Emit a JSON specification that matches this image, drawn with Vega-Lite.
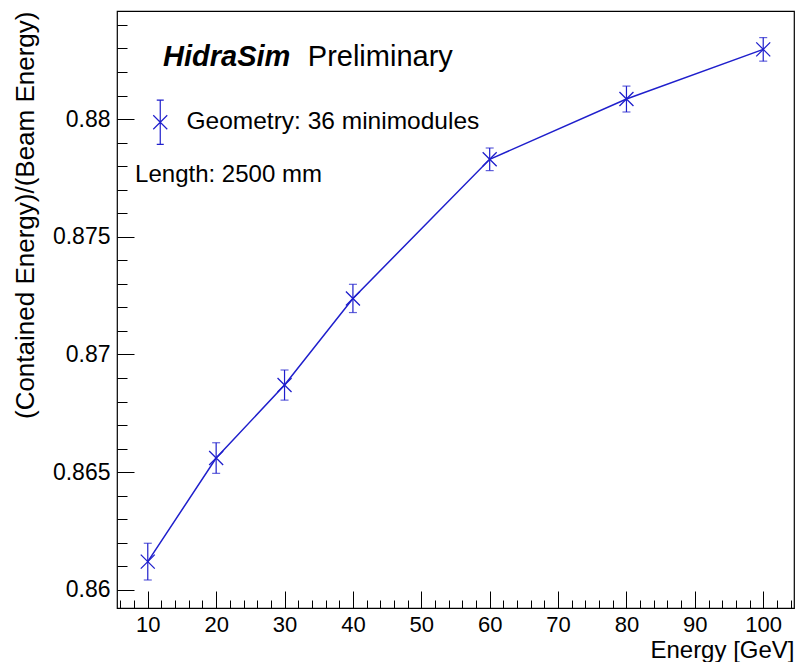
{
  "$schema": "https://vega.github.io/schema/vega-lite/v6.json",
  "width": 677,
  "height": 597,
  "autosize": {"type": "none"},
  "padding": {"left": 117, "top": 11, "right": 2, "bottom": 54},
  "background": "white",
  "config": {
    "font": "Liberation Sans",
    "view": {"stroke": "black", "strokeWidth": 1.2},
    "axis": {
      "grid": false,
      "domain": false,
      "tickColor": "black",
      "tickWidth": 1,
      "labelColor": "black",
      "titleColor": "black",
      "labelFont": "Liberation Sans",
      "titleFont": "Liberation Sans",
      "titleFontWeight": "normal"
    }
  },
  "data": {
    "values": [
      {"energy": 10, "value": 0.8612, "lo": 0.86042, "hi": 0.86198},
      {"energy": 20, "value": 0.8656, "lo": 0.86495, "hi": 0.86625},
      {"energy": 30, "value": 0.8687, "lo": 0.86806, "hi": 0.86934},
      {"energy": 40, "value": 0.87238, "lo": 0.87178, "hi": 0.87298},
      {"energy": 60, "value": 0.87829, "lo": 0.87781, "hi": 0.87877},
      {"energy": 80, "value": 0.88085, "lo": 0.8803, "hi": 0.8814},
      {"energy": 100, "value": 0.88296, "lo": 0.88246, "hi": 0.88346}
    ]
  },
  "resolve": {"axis": {"x": "independent", "y": "independent"}},
  "layer": [
    {
      "mark": {"type": "line", "color": "#1f1fcc", "strokeWidth": 1.5},
      "encoding": {
        "x": {
          "field": "energy",
          "type": "quantitative",
          "scale": {"domain": [5.5, 104.5], "nice": false, "zero": false},
          "axis": {
            "orient": "bottom",
            "values": [10, 20, 30, 40, 50, 60, 70, 80, 90, 100],
            "tickSize": -17,
            "labelPadding": 23,
            "labelFontSize": 22,
            "title": "Energy [GeV]",
            "titleFontSize": 24,
            "titleAnchor": "end",
            "titlePadding": 3
          }
        },
        "y": {
          "field": "value",
          "type": "quantitative",
          "scale": {"domain": [0.85923, 0.88459], "nice": false, "zero": false},
          "axis": {
            "orient": "left",
            "values": [0.86, 0.865, 0.87, 0.875, 0.88],
            "format": ".3~f",
            "tickSize": -17,
            "labelPadding": 24,
            "labelFontSize": 23,
            "title": "(Contained Energy)/(Beam Energy)",
            "titleFontSize": 26,
            "titleAnchor": "end",
            "titlePadding": 14
          }
        }
      }
    },
    {
      "mark": {"type": "rule", "color": "#1f1fcc", "strokeWidth": 1.2},
      "encoding": {
        "x": {
          "field": "energy",
          "type": "quantitative",
          "axis": {
            "orient": "bottom",
            "values": [6, 8, 12, 14, 16, 18, 22, 24, 26, 28, 32, 34, 36, 38, 42, 44, 46, 48, 52, 54, 56, 58, 62, 64, 66, 68, 72, 74, 76, 78, 82, 84, 86, 88, 92, 94, 96, 98, 102, 104],
            "tickSize": -8,
            "labels": false,
            "title": null
          }
        },
        "y": {
          "field": "lo",
          "type": "quantitative",
          "axis": {
            "orient": "left",
            "values": [0.861, 0.862, 0.863, 0.864, 0.866, 0.867, 0.868, 0.869, 0.871, 0.872, 0.873, 0.874, 0.876, 0.877, 0.878, 0.879, 0.881, 0.882, 0.883, 0.884],
            "tickSize": -10,
            "labels": false,
            "title": null
          }
        },
        "y2": {"field": "hi"}
      }
    },
    {
      "mark": {"type": "tick", "orient": "horizontal", "color": "#1f1fcc", "size": 8, "thickness": 1.2},
      "encoding": {
        "x": {"field": "energy", "type": "quantitative", "axis": null},
        "y": {"field": "lo", "type": "quantitative", "axis": null}
      }
    },
    {
      "mark": {"type": "tick", "orient": "horizontal", "color": "#1f1fcc", "size": 8, "thickness": 1.2},
      "encoding": {
        "x": {"field": "energy", "type": "quantitative", "axis": null},
        "y": {"field": "hi", "type": "quantitative", "axis": null}
      }
    },
    {
      "mark": {"type": "point", "shape": "M-1,-1L1,1M-1,1L1,-1", "filled": false, "size": 196, "strokeWidth": 1.3, "opacity": 1},
      "encoding": {
        "x": {"field": "energy", "type": "quantitative", "axis": null},
        "y": {"field": "value", "type": "quantitative", "axis": null},
        "color": {
          "datum": "Geometry: 36 minimodules",
          "scale": {"range": ["#1f1fcc"]},
          "legend": {
            "orient": "none",
            "legendX": 31,
            "legendY": 99,
            "title": null,
            "labelFont": "Liberation Sans",
            "labelFontSize": 24.5,
            "labelColor": "black",
            "labelLimit": 400,
            "labelOffset": 14,
            "symbolType": "M-1,-1L1,1M-1,1L1,-1M0,-3.15L0,3.15M-0.5,-3.15L0.5,-3.15M-0.5,3.15L0.5,3.15",
            "symbolSize": 196,
            "symbolStrokeWidth": 1.2,
            "symbolFillColor": "transparent"
          }
        }
      }
    },
    {
      "data": {"values": [{}]},
      "mark": {"type": "text", "text": "HidraSim", "font": "Liberation Sans", "fontSize": 29, "fontWeight": "bold", "fontStyle": "italic", "align": "left", "baseline": "alphabetic", "color": "black"},
      "encoding": {
        "x": {"datum": 12.23, "type": "quantitative", "axis": null},
        "y": {"datum": 0.88225, "type": "quantitative", "axis": null}
      }
    },
    {
      "data": {"values": [{}]},
      "mark": {"type": "text", "text": "Preliminary", "font": "Liberation Sans", "fontSize": 29, "align": "left", "baseline": "alphabetic", "color": "black"},
      "encoding": {
        "x": {"datum": 33.4, "type": "quantitative", "axis": null},
        "y": {"datum": 0.88225, "type": "quantitative", "axis": null}
      }
    },
    {
      "data": {"values": [{}]},
      "mark": {"type": "text", "text": "Length: 2500 mm", "font": "Liberation Sans", "fontSize": 24, "align": "left", "baseline": "alphabetic", "color": "black"},
      "encoding": {
        "x": {"datum": 8.15, "type": "quantitative", "axis": null},
        "y": {"datum": 0.87734, "type": "quantitative", "axis": null}
      }
    }
  ]
}
